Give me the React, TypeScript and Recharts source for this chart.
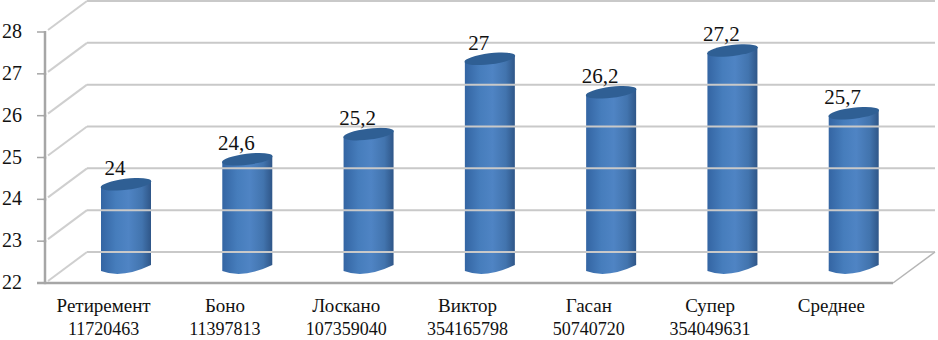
import { Bar, BarChart, LabelList, XAxis, YAxis } from 'recharts'

const NAMES = ['Ретиремент', 'Боно', 'Лоскано', 'Виктор', 'Гасан', 'Супер', 'Среднее']
const CODES = ['11720463', '11397813', '107359040', '354165798', '50740720', '354049631', '']
const VALUES = [24, 24.6, 25.2, 27, 26.2, 27.2, 25.7]
const Y_TICKS = [22, 23, 24, 25, 26, 27, 28]

const rows = NAMES.map((name, i) => ({ name, value: VALUES[i] }))

const FONT = '"Liberation Serif", serif'
const FRONT_X = 45
const BACK_X = 87
const WALL_RIGHT = 935
const FLOOR_RIGHT = 893
const FRONT_DY = 15
const BACK_DY = -16

function WallTick({ y, payload }: any) {
  const fy = y + FRONT_DY
  const by = y + BACK_DY
  const isFloor = payload.value === 22
  return (
    <g>
      <line x1={BACK_X} y1={by} x2={WALL_RIGHT} y2={by} stroke="#c9c9c9" strokeWidth={2} />
      <line x1={FRONT_X + 3} y1={fy - 2} x2={BACK_X} y2={by} stroke="#cfcfcf" strokeWidth={2} />
      <line x1={FRONT_X - 8} y1={fy} x2={FRONT_X} y2={fy} stroke="#a6a6a6" strokeWidth={1.5} />
      {!isFloor && (
        <line x1={FRONT_X} y1={fy - 1} x2={FRONT_X} y2={fy + 43} stroke="#a6a6a6" strokeWidth={2.5} />
      )}
      {isFloor && (
        <>
          <line x1={FRONT_X - 8} y1={fy} x2={FLOOR_RIGHT} y2={fy} stroke="#a6a6a6" strokeWidth={2.5} />
          <line x1={FLOOR_RIGHT} y1={fy} x2={WALL_RIGHT} y2={by} stroke="#b5b5b5" strokeWidth={1.5} />
        </>
      )}
      <text x={12} y={fy + 6} textAnchor="middle" fontFamily={FONT} fontSize={20} fill="#111">
        {payload.value}
      </text>
    </g>
  )
}

function NameTick({ x, payload, index }: any) {
  return (
    <g>
      <text x={x - 22} y={312} textAnchor="middle" fontFamily={FONT} fontSize={19} fill="#111">
        {payload.value}
      </text>
      <text x={x - 22} y={335} textAnchor="middle" fontFamily={FONT} fontSize={18} fill="#111">
        {CODES[index]}
      </text>
    </g>
  )
}

function Cylinder({ x, y, width, height }: any) {
  const rx = width / 2
  const cx = x + rx
  const bottom = y + height
  const tilt = 3
  const ry = 5.5
  const body = [
    `M ${x} ${y + tilt}`,
    `L ${x} ${bottom + tilt}`,
    `Q ${cx - 4} ${bottom + 11} ${x + width} ${bottom - tilt}`,
    `L ${x + width} ${y - tilt}`,
    'Z',
  ].join(' ')
  return (
    <g>
      <path d={body} fill="url(#cylinderSide)" />
      <ellipse cx={cx} cy={y} rx={rx + 0.5} ry={ry} fill="#2f5f94" transform={`rotate(-7 ${cx} ${y})`} />
    </g>
  )
}

function ValueLabel({ x, y, width, value }: any) {
  return (
    <text
      x={x + width / 2 - 11}
      y={y - 9}
      textAnchor="middle"
      fontFamily={FONT}
      fontSize={21}
      fill="#111"
    >
      {String(value).replace('.', ',')}
    </text>
  )
}

export default function App() {
  return (
    <div style={{ position: 'absolute', left: 0, top: 0, width: 938, height: 340, background: '#fff' }}>
      <BarChart
        width={938}
        height={340}
        data={rows}
        margin={{ top: 17, right: 24, bottom: 0, left: 0 }}
      >
        <defs>
          <linearGradient id="cylinderSide" x1="0" y1="0" x2="1" y2="0">
            <stop offset="0%" stopColor="#3465a3" />
            <stop offset="30%" stopColor="#467dbc" />
            <stop offset="55%" stopColor="#4f84c4" />
            <stop offset="82%" stopColor="#4274ae" />
            <stop offset="100%" stopColor="#2f5688" />
          </linearGradient>
        </defs>
        <YAxis
          type="number"
          domain={[22, 28]}
          ticks={Y_TICKS}
          interval={0}
          width={65}
          axisLine={false}
          tickLine={false}
          tick={<WallTick />}
          zIndex={100}
        />
        <XAxis
          dataKey="name"
          height={72}
          interval={0}
          axisLine={false}
          tickLine={false}
          tick={<NameTick />}
        />
        <Bar dataKey="value" barSize={50} isAnimationActive={false} shape={<Cylinder />}>
          <LabelList dataKey="value" content={<ValueLabel />} />
        </Bar>
      </BarChart>
    </div>
  )
}
